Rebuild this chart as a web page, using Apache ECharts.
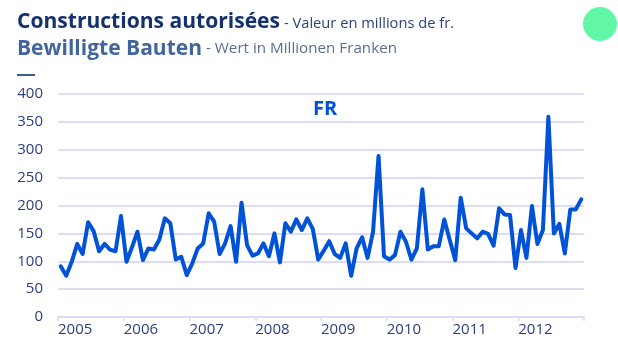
<!DOCTYPE html>
<html>
<head>
<meta charset="utf-8">
<script src="https://cdn.jsdelivr.net/npm/echarts@6/dist/echarts.min.js"></script>
<style>
  html, body { margin: 0; padding: 0; background: #ffffff; }
  #chart { width: 618px; height: 340px; }
</style>
</head>
<body>
<div id="chart"></div>
<script>
// Year labels on the time axis (one label per 12 months)
const years = ['2005', '2006', '2007', '2008', '2009', '2010', '2011', '2012'];

// Monthly values, millions of francs (Jan..Dec)
const v2005 = [91, 74, 99, 131, 113, 170, 154, 118, 131, 121, 118, 181];
const v2006 = [99, 125, 153, 102, 123, 121, 139, 177, 168, 103, 108, 75];
const v2007 = [96, 123, 132, 186, 171, 113, 132, 163, 99, 205, 129, 110];
const v2008 = [114, 132, 109, 150, 98, 168, 153, 175, 156, 177, 158, 103];
const v2009 = [119, 136, 113, 106, 132, 74, 123, 143, 106, 153, 289, 109];
const v2010 = [103, 111, 153, 135, 103, 123, 229, 121, 127, 127, 175, 138];
const v2011 = [102, 214, 159, 150, 141, 153, 149, 128, 195, 184, 183, 88];
const v2012 = [156, 106, 199, 131, 156, 359, 150, 167, 114, 193, 193, 211];

const monthly = [].concat(v2005, v2006, v2007, v2008, v2009, v2010, v2011, v2012);

const FONT = '"Open Sans", "Noto Sans", sans-serif';
const GRID_COLOR = '#dcdcf7';
const LINE_COLOR = '#0052d6';

// Horizontal squeeze so a heading fills a given width
const measureCtx = document.createElement('canvas').getContext('2d');
function squeeze(text, size, weight, width) {
  measureCtx.font = weight + ' ' + size + 'px ' + FONT;
  return width / measureCtx.measureText(text).width;
}

function heading(text, left, baseline, size, weight, color, width) {
  return {
    type: 'text',
    x: left,
    y: baseline - size * 0.36,
    scaleX: squeeze(text, size, weight, width),
    style: {
      text: text,
      fontFamily: FONT,
      fontSize: size,
      fontWeight: weight,
      fill: color,
      align: 'left',
      verticalAlign: 'middle'
    }
  };
}

const chart = echarts.init(document.getElementById('chart'), null, { renderer: 'canvas' });

chart.setOption({
  animation: false,
  backgroundColor: '#ffffff',
  grid: { left: 58, right: 34, top: 94, bottom: 23, outerBoundsMode: 'none' },
  xAxis: {
    type: 'value',
    min: 0,
    max: monthly.length,
    interval: 12,
    axisLine: { show: true, lineStyle: { color: GRID_COLOR, width: 2 } },
    axisTick: { show: true, length: 4, lineStyle: { color: GRID_COLOR, width: 1.5 } },
    splitLine: { show: false },
    axisLabel: {
      color: '#2b3f7f',
      fontFamily: FONT,
      fontSize: 15,
      margin: 5,
      align: 'left',
      formatter: function (v) { return years[v / 12] || ''; }
    }
  },
  yAxis: {
    type: 'value',
    min: 0,
    max: 400,
    interval: 50,
    axisLine: { show: false },
    axisTick: { show: false },
    splitLine: { show: true, lineStyle: { color: GRID_COLOR, width: 2 } },
    axisLabel: {
      color: '#2b3f7f',
      fontFamily: FONT,
      fontSize: 15,
      margin: 15
    }
  },
  series: [{
    name: 'FR',
    type: 'line',
    data: monthly.map(function (v, i) { return [i + 0.5, v]; }),
    showSymbol: false,
    lineStyle: { color: LINE_COLOR, width: 4, cap: 'round', join: 'round' },
    itemStyle: { color: LINE_COLOR }
  }],
  graphic: [
    heading('Constructions autorisées', 17, 29.5, 22, 'bold', '#14306e', 263),
    heading('- Valeur en millions de fr.', 284, 29, 15, 'normal', '#2d4180', 170),
    heading('Bewilligte Bauten', 17, 56.5, 22, 'bold', '#41659e', 185),
    heading('- Wert in Millionen Franken', 206, 54.5, 15, 'normal', '#5a6e92', 191),
    {
      type: 'rect',
      shape: { x: 17, y: 74, width: 18, height: 2 },
      style: { fill: '#3d5a99' }
    },
    {
      type: 'circle',
      shape: { cx: 600, cy: 24, r: 17 },
      style: { fill: '#63f7a8' }
    },
    {
      type: 'text',
      x: 325,
      y: 109,
      style: {
        text: 'FR',
        fontFamily: FONT,
        fontSize: 20,
        fontWeight: 'bold',
        fill: LINE_COLOR,
        align: 'center',
        verticalAlign: 'middle'
      }
    }
  ]
});
</script>
</body>
</html>
